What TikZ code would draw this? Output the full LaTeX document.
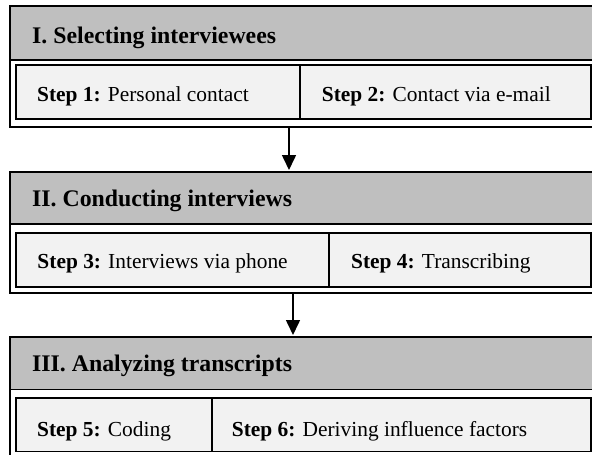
\documentclass[tikz,border=0pt]{standalone}
\usepackage{fontspec}
\setmainfont{Liberation Serif}
\usetikzlibrary{arrows.meta}
\definecolor{headgray}{RGB}{191,191,191}
\definecolor{stepfill}{RGB}{242,242,242}
\begin{document}
\begin{tikzpicture}[x=1pt,y=-1pt,
  outerbox/.style={draw, line width=1.9pt, fill=white, inner sep=0pt, outer sep=0pt, anchor=north west, minimum width=587pt},
  headbox/.style={draw, line width=1.9pt, fill=headgray, inner sep=0pt, outer sep=0pt, anchor=north west, minimum width=587pt},
  stepbox/.style={draw, line width=1.6pt, fill=stepfill, inner sep=0pt, outer sep=0pt, anchor=north west},
  headtext/.style={anchor=base west, inner sep=0pt, font=\fontsize{23.8}{26}\selectfont\bfseries},
  steptext/.style={anchor=base west, inner sep=0pt, font=\fontsize{21.4}{24}\selectfont},
  flowarrow/.style={line width=1.6pt, -{Triangle[width=14pt,length=15pt]}, shorten >=2pt}
]
\useasboundingbox (0,0) rectangle (592,455);
% Phase I
\node[outerbox, minimum height=121pt] (outer1) at (10,6) {};
\node[headbox, minimum height=54pt] (head1) at (10,6) {};
\node[stepbox, minimum width=284pt, minimum height=54pt] (box1) at (16,65) {};
\node[stepbox, minimum width=291pt, minimum height=54pt] (box2) at (300,65) {};
\node[headtext] (h1) at (32,43.3) {I. Selecting interviewees};
\node[steptext] (t1) at (37,101.7) {\textbf{Step 1:} Personal contact};
\node[steptext] (t2) at (321.7,101.7) {\textbf{Step 2:} Contact via e-mail};
% Phase II
\node[outerbox, minimum height=121pt] (outer2) at (10,172) {};
\node[headbox, minimum height=52pt] (head2) at (10,172) {};
\node[stepbox, minimum width=313pt, minimum height=54pt] (box3) at (16,233) {};
\node[stepbox, minimum width=262pt, minimum height=54pt] (box4) at (329,233) {};
\node[headtext] (h2) at (32,206.7) {II. Conducting interviews};
\node[steptext] (t3) at (37.3,268.3) {\textbf{Step 3:} Interviews via phone};
\node[steptext] (t4) at (351,268.3) {\textbf{Step 4:} Transcribing};
% Phase III
\node[outerbox, minimum height=121pt] (outer3) at (10,337) {};
\node[headbox, minimum height=52.5pt] (head3) at (10,337) {};
\node[stepbox, minimum width=196pt, minimum height=53.5pt] (box5) at (16,398) {};
\node[stepbox, minimum width=379pt, minimum height=53.5pt] (box6) at (212,398) {};
\node[headtext] (h3) at (32,371.7) {III. Analyzing transcripts};
\node[steptext] (t5) at (37,436.7) {\textbf{Step 5:} Coding};
\node[steptext] (t6) at (231.7,436.7) {\textbf{Step 6:} Deriving influence factors};
% arrows
\coordinate (a1) at (289,0);
\coordinate (a2) at (293,0);
\draw[flowarrow] (outer1.south -| a1) -- (outer2.north -| a1);
\draw[flowarrow] (outer2.south -| a2) -- (outer3.north -| a2);
\end{tikzpicture}
\end{document}
